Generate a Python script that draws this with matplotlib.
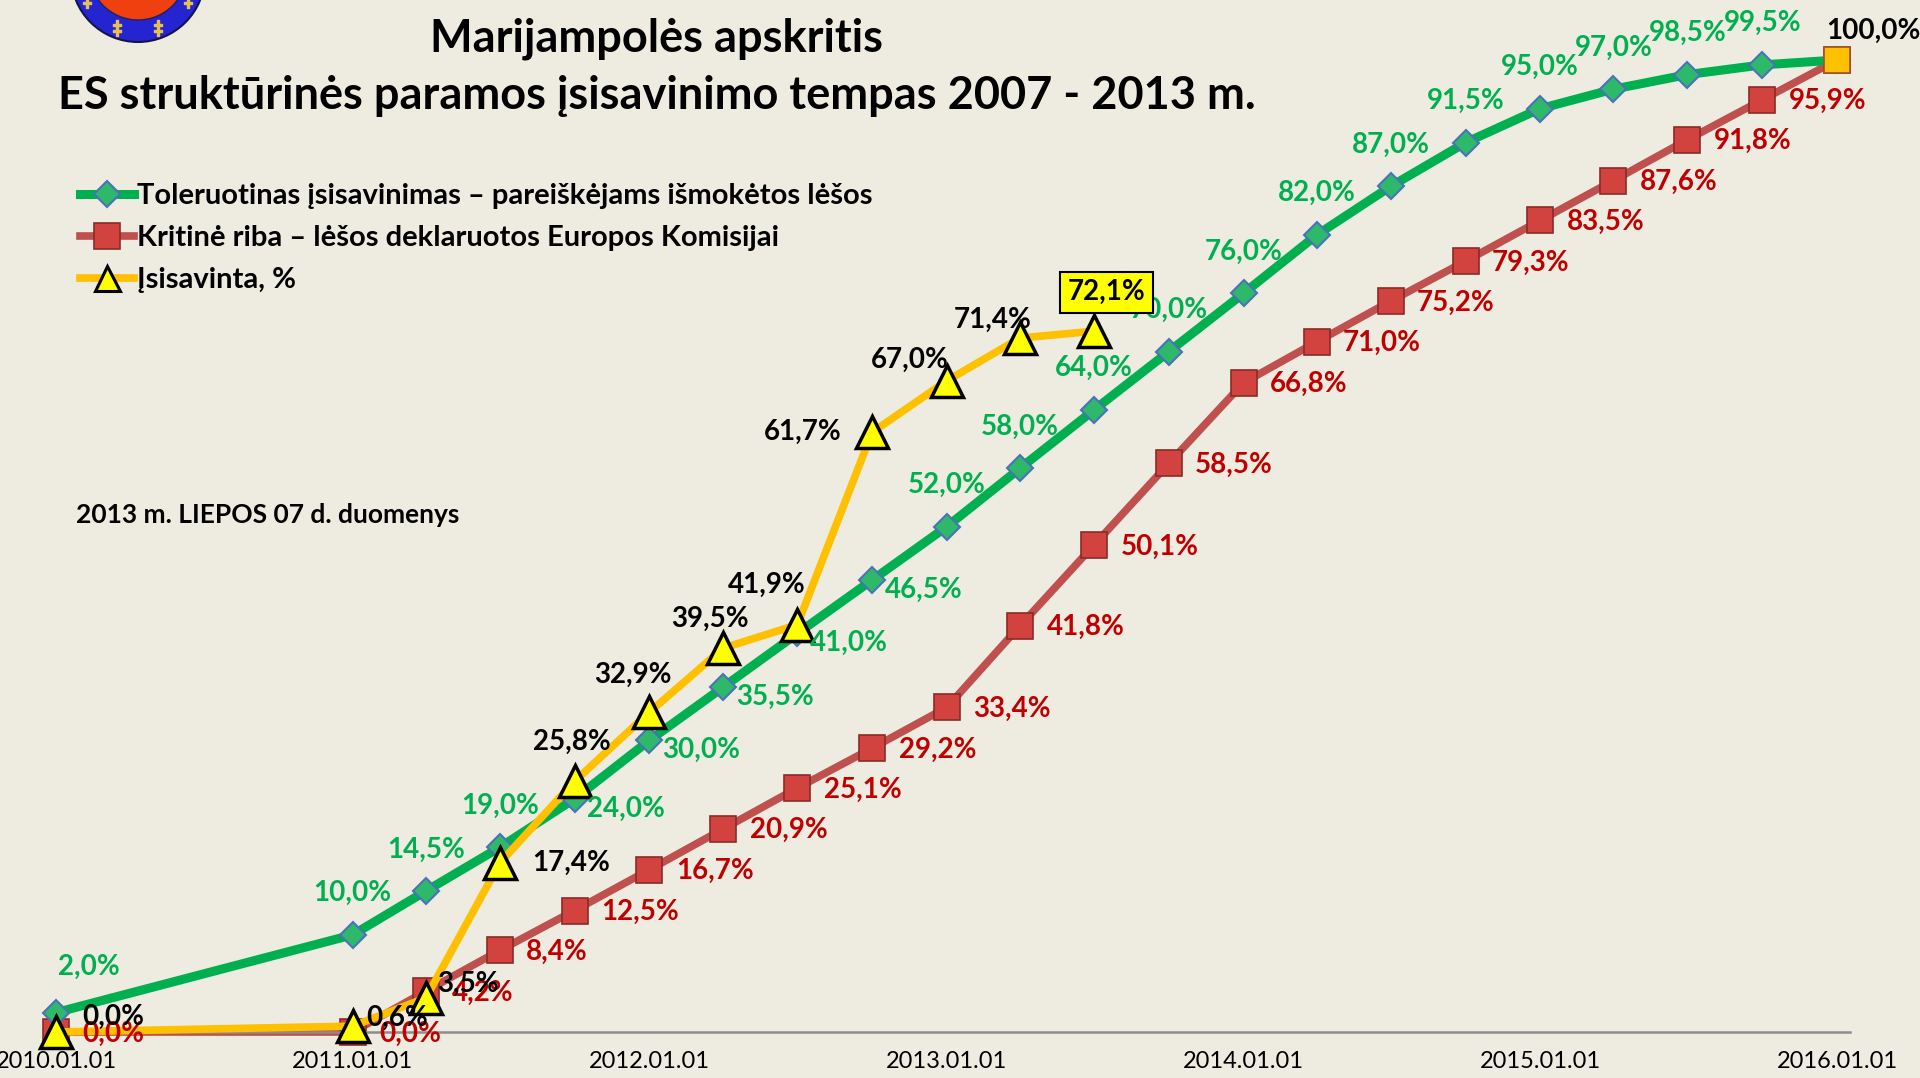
import datetime as dt
import matplotlib
matplotlib.use("Agg")
import matplotlib.pyplot as plt
import matplotlib.dates as mdates
from matplotlib.lines import Line2D
from matplotlib.patches import Circle

plt.rcParams['font.family'] = ['Lato', 'DejaVu Sans']

# ---- data ----
dates = ["2010.01.01", "2011.01.01", "2011.04.01", "2011.07.01", "2011.10.01",
         "2012.01.01", "2012.04.01", "2012.07.01", "2012.10.01",
         "2013.01.01", "2013.04.01", "2013.07.01", "2013.10.01",
         "2014.01.01", "2014.04.01", "2014.07.01", "2014.10.01",
         "2015.01.01", "2015.04.01", "2015.07.01", "2015.10.01", "2016.01.01"]
toleruotinas = [2.0, 10.0, 14.5, 19.0, 24.0, 30.0, 35.5, 41.0, 46.5, 52.0, 58.0,
                64.0, 70.0, 76.0, 82.0, 87.0, 91.5, 95.0, 97.0, 98.5, 99.5, 100.0]
kritine = [0.0, 0.0, 4.2, 8.4, 12.5, 16.7, 20.9, 25.1, 29.2, 33.4, 41.8,
           50.1, 58.5, 66.8, 71.0, 75.2, 79.3, 83.5, 87.6, 91.8, 95.9, 100.0]
isisavinta = [0.0, 0.6, 3.5, 17.4, 25.8, 32.9, 39.5, 41.9, 61.7, 67.0, 71.4, 72.1]
year_ticks = ["2010.01.01", "2011.01.01", "2012.01.01", "2013.01.01",
              "2014.01.01", "2015.01.01", "2016.01.01"]

names = ["Toleruotinas įsisavinimas – pareiškėjams išmokėtos lėšos",
         "Kritinė riba – lėšos deklaruotos Europos Komisijai",
         "Įsisavinta, %"]

x = [dt.datetime.strptime(d, "%Y.%m.%d") for d in dates]
xt = [dt.datetime.strptime(d, "%Y.%m.%d") for d in year_ticks]
xy = x[:len(isisavinta)]

def pct(v):
    return f"{v:.1f}%".replace(".", ",")

BG = "#EEECE1"
GREEN = "#00B050"
RED_LINE = "#C0504D"
RED_TXT = "#C00000"
GOLD = "#FFC000"

W, H = 1920, 1078
fig = plt.figure(figsize=(W / 100, H / 100), dpi=100, facecolor=BG)

# axes bottom sits on the zero line
y0_px, y100_px = 1032, 60
ax = fig.add_axes([0, (H - y0_px) / H, 1, y0_px / H])
ax.set_facecolor(BG)
d0, d1 = mdates.date2num(xt[0]), mdates.date2num(xt[-1])
dpp = (d1 - d0) / (1837 - 56)
ax.set_xlim(d0 - 56 * dpp, d1 + (W - 1837) * dpp)
ax.set_ylim(0, 100 * y0_px / (y0_px - y100_px))

for s in ["top", "left", "right"]:
    ax.spines[s].set_visible(False)
ax.spines["bottom"].set_color("#8C8C8C")
ax.spines["bottom"].set_linewidth(1.8)
ax.spines["bottom"].set_bounds(d0, d1 + 13 * dpp)
ax.set_yticks([])
ax.set_xticks(xt)
ax.set_xticklabels(year_ticks, fontsize=17, color="black")
ax.tick_params(axis="x", length=0, pad=14)

# lines
green_mk = dict(marker="D", ms=13, mfc="#2DB86A", mec="#4A72B8", mew=1.5)
red_mk = dict(marker="s", ms=19, mfc="#D2423E", mec="#8B2A27", mew=1.2)
yel_mk = dict(marker="^", ms=23, mfc="#FFFF00", mec="black", mew=2.5)
ax.plot(x, kritine, color=RED_LINE, lw=5.5, zorder=2, clip_on=False, **red_mk)
ax.plot(x, toleruotinas, color=GREEN, lw=6.5, zorder=3, clip_on=False, **green_mk)
ax.plot(xy, isisavinta, color=GOLD, lw=5.5, zorder=4, clip_on=False, **yel_mk)
# last point of the red series highlighted
ax.plot(x[-1:], kritine[-1:], ls="none", marker="s", ms=19, mfc=GOLD,
        mec="#A0522D", mew=1.2, zorder=5, clip_on=False)

fs = 20
lab = dict(textcoords="offset points", fontsize=fs, fontweight="bold", zorder=6)

# green labels: above, except a stretch to the right
for i, (xi, v) in enumerate(zip(x[:-1], toleruotinas[:-1])):
    if i == 0:
        ax.annotate(pct(v), (xi, v), xytext=(24, 33), ha="center", va="center",
                    color=GREEN, **lab)
    elif 4 <= i <= 8:
        ax.annotate(pct(v), (xi, v), xytext=(9, -7), ha="left", va="center",
                    color=GREEN, **lab)
    else:
        ax.annotate(pct(v), (xi, v), xytext=(0, 30), ha="center", va="center",
                    color=GREEN, **lab)

# red labels: to the right
for i, (xi, v) in enumerate(zip(x[:-1], kritine[:-1])):
    ax.annotate(pct(v), (xi, v), xytext=(19, -1), ha="left", va="center",
                color=RED_TXT, **lab)

# yellow labels (black text)
y_off = [(19, 11, "left"), (10, 6, "left"), (8, 10, "left"), (23, 0, "left"),
         (-2, 28, "center"), (-12, 27, "center"), (-10, 21, "center"),
         (-22, 29, "center"), (-22, 0, "right"), (-27, 15, "center"),
         (-20, 13, "center")]
for (xi, v), (dx, dy, ha) in zip(zip(xy, isisavinta), y_off):
    ax.annotate(pct(v), (xi, v), xytext=(dx, dy), ha=ha, va="center",
                color="black", **lab)
ax.annotate(pct(isisavinta[-1]), (xy[-1], isisavinta[-1]), xytext=(9, 28),
            ha="center", va="center", color="black",
            bbox=dict(boxstyle="square,pad=0.28", fc="#FFFF00", ec="black", lw=1.5),
            **lab)
ax.annotate(pct(kritine[-1]), (x[-1], kritine[-1]), xytext=(26, 21),
            ha="center", va="center", color="black", annotation_clip=False, **lab)

# legend
handles = [
    Line2D([], [], color=GREEN, lw=6.5, **green_mk),
    Line2D([], [], color=RED_LINE, lw=5.5, **red_mk),
    Line2D([], [], color=GOLD, lw=5.5, marker="^", ms=18, mfc="#FFFF00",
           mec="black", mew=2.2),
]
leg = fig.legend(handles, names, loc="upper left",
                 bbox_to_anchor=(80 / W, 1 - 183 / H), frameon=False,
                 prop=dict(size=21, weight="bold"), handlelength=1.85,
                 handletextpad=0.1, labelspacing=0.55, borderpad=0,
                 borderaxespad=0)

# titles and note
fig.text(657 / W, 1 - 39 / H, "Marijampolės apskritis", ha="center", va="center",
         fontsize=32.5, fontweight="bold")
fig.text(657 / W, 1 - 96 / H,
         "ES struktūrinės paramos įsisavinimo tempas 2007 - 2013 m.",
         ha="center", va="center", fontsize=32.5, fontweight="bold")
fig.text(76 / W, 1 - 515 / H, "2013 m. LIEPOS 07 d. duomenys", ha="left",
         va="center", fontsize=19, fontweight="bold")

# logo (partly cut at the top)
lax = fig.add_axes([(138 - 70) / W, 1 - 45 / H, 140 / W, 140 / H])
lax.set_xlim(-70, 70)
lax.set_ylim(-70, 70)
lax.set_aspect("equal")
lax.axis("off")
lax.add_patch(Circle((0, 0), 67, fc="#2424D0", ec="#141450", lw=1.5))
lax.add_patch(Circle((0, 4), 49, fc="#F04010", ec="#202060", lw=1))
lax.plot([-21, 20, -51, 50], [-53, -53, -25, -25], ls="none",
         marker=r"$\ddagger$", ms=11, color="#E8C050")

fig.savefig("out.png", dpi=100, facecolor=BG)
